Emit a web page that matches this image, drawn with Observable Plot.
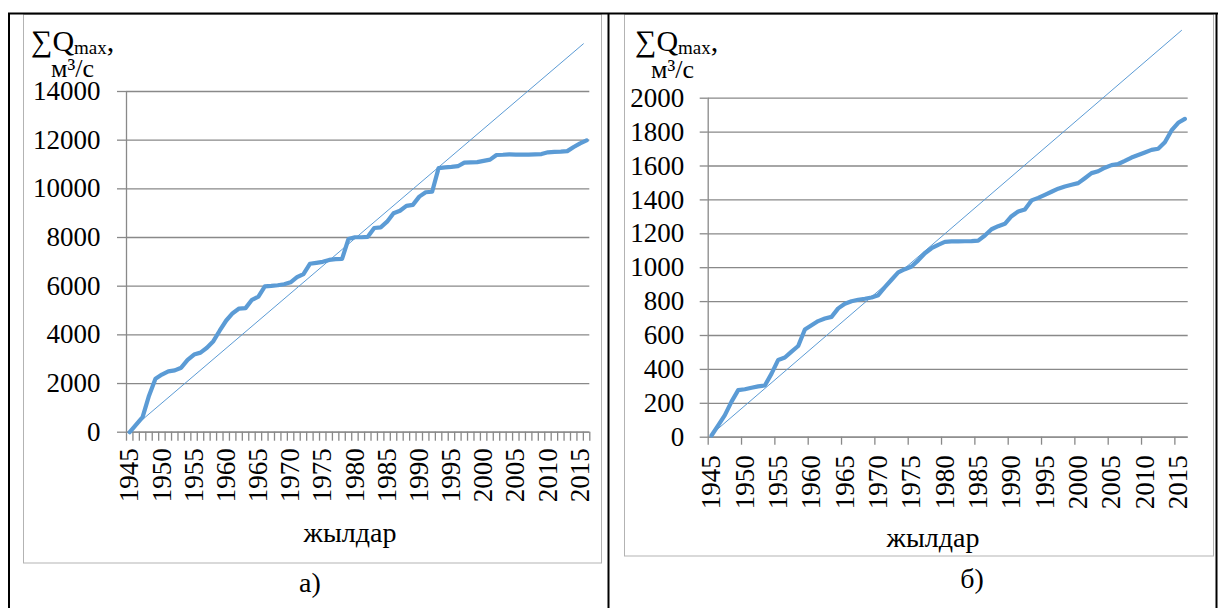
<!DOCTYPE html>
<html><head><meta charset="utf-8">
<script src="https://cdn.jsdelivr.net/npm/d3@7"></script>
<script src="https://cdn.jsdelivr.net/npm/@observablehq/plot@0.6"></script>
<style>
html,body{margin:0;padding:0;background:#fff;}
#page{position:relative;width:1218px;height:608px;overflow:hidden;font-family:'Liberation Serif','Times New Roman','DejaVu Serif',serif;}
.abs{position:absolute;left:0;top:0;}
#labels text{font-family:'Liberation Serif','Times New Roman','DejaVu Serif',serif;fill:#000;}
svg text{font-family:'Liberation Serif','Times New Roman','DejaVu Serif',serif;}
</style></head><body>
<div id="page">
<svg class="abs" width="1218" height="608">
  <rect x="23.5" y="14.5" width="578" height="548.5" fill="none" stroke="#b3b3b3" stroke-width="1"/>
  <rect x="624.5" y="14.5" width="589" height="541.5" fill="none" stroke="#b3b3b3" stroke-width="1"/>
</svg>
<div id="left" class="abs"></div>
<div id="right" class="abs" style="left:610px"></div>
<svg id="labels" class="abs" width="1218" height="608">
  <line x1="8" y1="13.5" x2="1218" y2="13.5" stroke="#000" stroke-width="2"/>
  <line x1="9" y1="13" x2="9" y2="608" stroke="#000" stroke-width="2"/>
  <line x1="608.5" y1="13" x2="608.5" y2="608" stroke="#000" stroke-width="2"/>
  <line x1="1216.5" y1="13" x2="1216.5" y2="608" stroke="#000" stroke-width="2"/>
  <text x="31" y="51" font-size="30">∑Q<tspan font-size="19" dy="3">max</tspan><tspan font-size="30" dy="-3">,</tspan></text>
  <text x="51" y="77" font-size="26">м³/с</text>
  <text x="635" y="51" font-size="30">∑Q<tspan font-size="19" dy="3">max</tspan><tspan font-size="30" dy="-3">,</tspan></text>
  <text x="651" y="78" font-size="26">м³/с</text>
  <text x="350" y="541.5" font-size="28" text-anchor="middle">жылдар</text>
  <text x="933" y="546.5" font-size="28" text-anchor="middle">жылдар</text>
  <text x="310" y="592" font-size="28" text-anchor="middle">а)</text>
  <text x="972" y="588" font-size="28" text-anchor="middle">б)</text>
</svg>
</div>
<script>
const years = [1945,1946,1947,1948,1949,1950,1951,1952,1953,1954,1955,1956,1957,1958,1959,1960,1961,1962,1963,1964,1965,1966,1967,1968,1969,1970,1971,1972,1973,1974,1975,1976,1977,1978,1979,1980,1981,1982,1983,1984,1985,1986,1987,1988,1989,1990,1991,1992,1993,1994,1995,1996,1997,1998,1999,2000,2001,2002,2003,2004,2005,2006,2007,2008,2009,2010,2011,2012,2013,2014,2015,2016];
const leftValues = [0,310,620,1500,2200,2370,2500,2540,2650,2970,3190,3270,3470,3740,4180,4590,4890,5080,5100,5440,5570,5990,6010,6040,6080,6160,6370,6500,6920,6960,7000,7080,7110,7120,7940,8010,8010,8030,8390,8420,8650,9000,9100,9300,9340,9680,9860,9880,10850,10880,10900,10930,11080,11090,11100,11150,11200,11390,11400,11420,11410,11410,11410,11420,11430,11500,11520,11530,11550,11720,11870,11990];
const rightValues = [10,70,130,210,278,283,292,300,305,375,456,470,505,538,635,660,685,700,710,760,787,802,811,817,824,838,885,929,972,991,1007,1043,1085,1115,1135,1152,1155,1155,1156,1157,1160,1190,1227,1245,1259,1304,1332,1344,1397,1412,1430,1448,1466,1479,1489,1499,1528,1558,1569,1590,1605,1612,1630,1650,1665,1680,1695,1702,1740,1810,1855,1878];
const xLabelYears = [1945,1950,1955,1960,1965,1970,1975,1980,1985,1990,1995,2000,2005,2010,2015];
const leftYTicks = [0,2000,4000,6000,8000,10000,12000,14000];
const rightYTicks = [0,200,400,600,800,1000,1200,1400,1600,1800,2000];
const leftTrendYears = [1944.9, 2015.5];
const leftTrendValues = [50, 15960];
const rightTrendYears = [1945, 2015.5];
const rightTrendValues = [17, 2400];

const blue = "#5B9BD5";
const grid = "#898989";
const serif = "'Liberation Serif', 'Times New Roman', 'DejaVu Serif', serif";
const x0 = years[0] - 0.5, x1 = years[years.length - 1] + 0.5;
const allBounds = years.map(y => y - 0.5).concat([x1]);
const fiveBounds = xLabelYears.map(y => y - 0.5);

function chart(o) {
  const data = years.map((y, i) => ({year: y, v: o.values[i]}));
  const trend = o.trendX.map((y, i) => ({year: y, v: o.trendY[i]}));
  return Plot.plot({
    width: o.width, height: 608,
    marginLeft: o.ml, marginRight: o.mr, marginTop: o.mt, marginBottom: o.mb,
    style: {fontFamily: serif, fontSize: "27px", color: "#000", background: "transparent", overflow: "visible"},
    x: {type: "linear", domain: [x0, x1]},
    y: {domain: [0, o.yTicks[o.yTicks.length - 1]]},
    marks: [
      Plot.gridY(o.yTicks, {stroke: grid, strokeOpacity: 1, strokeWidth: 1.3}),
      Plot.ruleX([x0], {stroke: grid, strokeWidth: 1.3}),
      Plot.ruleY([0], {stroke: grid, strokeWidth: 1.3}),
      Plot.axisY(o.yTicks, {tickSize: o.ts, tickPadding: o.yPad, stroke: grid, strokeWidth: 1.3, fill: "#000", fontFamily: serif, fontSize: 27, tickFormat: d => String(d), label: null}),
      Plot.axisX(o.bounds, {tickSize: o.ts, stroke: grid, strokeWidth: 1.3, tickFormat: () => "", label: null}),
      Plot.axisX(xLabelYears, {tickSize: 0, tickPadding: o.xPad, tickRotate: -90, fill: "#000", fontFamily: serif, fontSize: 27, tickFormat: d => String(d), label: null}),
      Plot.line(trend, {x: "year", y: "v", stroke: blue, strokeWidth: 1}),
      Plot.line(data, {x: "year", y: "v", stroke: blue, strokeWidth: 4.2, strokeLinejoin: "round", strokeLinecap: "round"})
    ]
  });
}

document.getElementById("left").appendChild(chart({
  values: leftValues, yTicks: leftYTicks, trendX: leftTrendYears, trendY: leftTrendValues,
  bounds: allBounds, width: 610, ml: 126, mr: 20.7, mt: 91, mb: 176.3, ts: 9, yPad: 17, xPad: 16
}));
document.getElementById("right").appendChild(chart({
  values: rightValues, yTicks: rightYTicks, trendX: rightTrendYears, trendY: rightTrendValues,
  bounds: fiveBounds, width: 608, ml: 97.7, mr: 30.3, mt: 97.7, mb: 171.3, ts: 8, yPad: 16, xPad: 18
}));
</script>
</body></html>
